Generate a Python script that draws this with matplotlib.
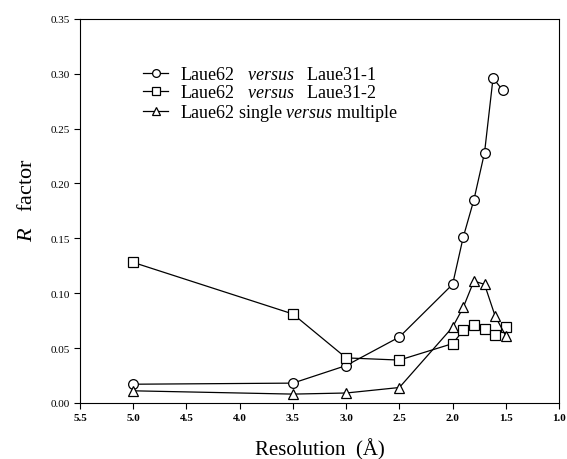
import matplotlib
matplotlib.use('Agg')
import matplotlib.pyplot as plt

plt.rcParams['font.family'] = ['Liberation Serif', 'DejaVu Serif']
plt.rcParams['mathtext.fontset'] = 'custom'
plt.rcParams['mathtext.rm'] = 'Liberation Serif'
plt.rcParams['mathtext.it'] = 'Liberation Serif:italic'

# Laue62 versus Laue31-1
res1 = [5.0, 3.5, 3.0, 2.5, 2.0, 1.9, 1.8, 1.7, 1.62, 1.53]
r1 = [0.017, 0.018, 0.034, 0.060, 0.108, 0.151, 0.185, 0.228, 0.296, 0.285]

# Laue62 versus Laue31-2
res2 = [5.0, 3.5, 3.0, 2.5, 2.0, 1.9, 1.8, 1.7, 1.6, 1.5]
r2 = [0.128, 0.081, 0.041, 0.039, 0.054, 0.066, 0.071, 0.067, 0.062, 0.069]

# Laue62 single versus multiple
res3 = [5.0, 3.5, 3.0, 2.5, 2.0, 1.9, 1.8, 1.7, 1.6, 1.5]
r3 = [0.011, 0.008, 0.009, 0.014, 0.069, 0.087, 0.111, 0.108, 0.079, 0.061]

labels = [r'Laue62   $\mathit{versus}$   Laue31-1',
          r'Laue62   $\mathit{versus}$   Laue31-2',
          r'Laue62 single $\mathit{versus}$ multiple']

xticks = [5.5, 5.0, 4.5, 4.0, 3.5, 3.0, 2.5, 2.0, 1.5, 1.0]
yticks = [0.00, 0.05, 0.10, 0.15, 0.20, 0.25, 0.30, 0.35]

fig = plt.figure(figsize=(5.67, 4.60), dpi=100)
ax = fig.add_axes([0.141, 0.122, 0.845, 0.835])

style = dict(color='black', linewidth=0.9, markersize=7, markerfacecolor='white',
             markeredgecolor='black', markeredgewidth=0.9)
ax.plot(res1, r1, marker='o', label=labels[0], **style)
ax.plot(res2, r2, marker='s', label=labels[1], **style)
ax.plot(res3, r3, marker='^', label=labels[2], **style)

ax.set_xlim(5.5, 1.0)
ax.set_ylim(0, 0.35)
ax.set_xticks(xticks)
ax.set_xticklabels(['%.1f' % v for v in xticks], fontsize=8, fontweight='bold')
ax.set_yticks(yticks)
ax.set_yticklabels(['%.2f' % v for v in yticks], fontsize=8)
ax.tick_params(direction='out', length=4, width=0.8, top=False, right=False)

ax.set_xlabel('Resolution  (Å)', fontsize=15, labelpad=11)
ax.set_ylabel(r'$\mathit{R}$   factor', fontsize=16)
ax.yaxis.set_label_coords(-0.09, 0.53)

ax.legend(loc='upper left', bbox_to_anchor=(0.098, 0.919), frameon=False,
          fontsize=13, handlelength=1.4, handletextpad=0.65, labelspacing=0.05,
          markerscale=0.8)

fig.savefig('out.png', dpi=100)
